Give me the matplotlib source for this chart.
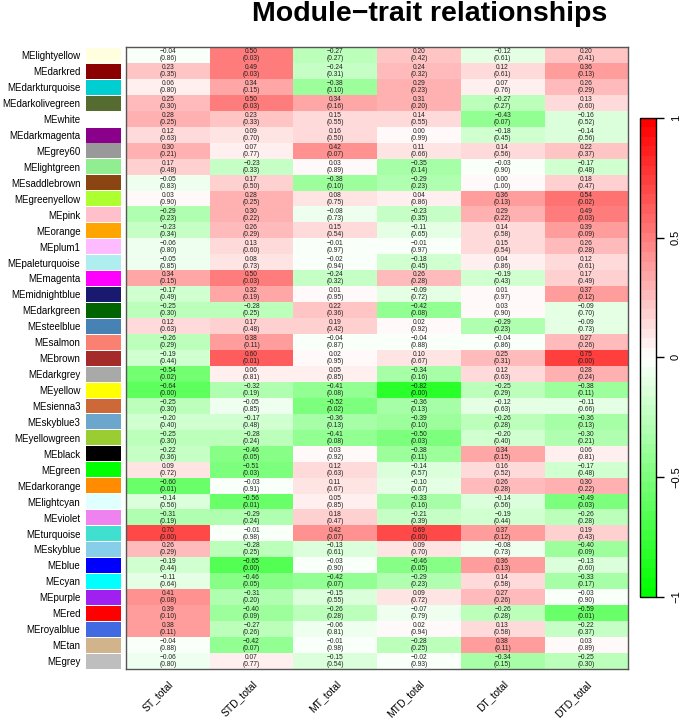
import matplotlib
matplotlib.use('Agg')
import matplotlib.pyplot as plt
import numpy as np
from matplotlib.colors import LinearSegmentedColormap

plt.rcParams['font.family'] = ['Liberation Sans', 'DejaVu Sans']

modules = ['MElightyellow', 'MEdarkred', 'MEdarkturquoise', 'MEdarkolivegreen', 'MEwhite',
           'MEdarkmagenta', 'MEgrey60', 'MElightgreen', 'MEsaddlebrown', 'MEgreenyellow',
           'MEpink', 'MEorange', 'MEplum1', 'MEpaleturquoise', 'MEmagenta',
           'MEmidnightblue', 'MEdarkgreen', 'MEsteelblue', 'MEsalmon', 'MEbrown',
           'MEdarkgrey', 'MEyellow', 'MEsienna3', 'MEskyblue3', 'MEyellowgreen',
           'MEblack', 'MEgreen', 'MEdarkorange', 'MElightcyan', 'MEviolet',
           'MEturquoise', 'MEskyblue', 'MEblue', 'MEcyan', 'MEpurple',
           'MEred', 'MEroyalblue', 'MEtan', 'MEgrey']
traits = ['ST_total', 'STD_total', 'MT_total', 'MTD_total', 'DT_total', 'DTD_total']

cor_ST = [-0.04, 0.23, 0.06, 0.25, 0.28, 0.12, 0.30, 0.17, -0.05, 0.03,
          -0.29, -0.23, -0.06, -0.05, 0.34, -0.17, -0.25, 0.12, -0.26, -0.19,
          -0.54, -0.64, -0.25, -0.20, -0.25, -0.22, 0.09, -0.60, -0.14, -0.31,
          0.70, 0.26, -0.19, -0.11, 0.41, 0.39, 0.38, -0.04, -0.06]
p_ST = [0.86, 0.35, 0.80, 0.30, 0.25, 0.63, 0.21, 0.48, 0.83, 0.90,
        0.23, 0.34, 0.80, 0.85, 0.15, 0.49, 0.30, 0.63, 0.29, 0.44,
        0.02, 0.00, 0.30, 0.40, 0.30, 0.36, 0.72, 0.01, 0.56, 0.19,
        0.00, 0.29, 0.44, 0.64, 0.08, 0.10, 0.11, 0.88, 0.80]

cor_STD = [0.50, 0.49, 0.34, 0.50, 0.23, 0.09, 0.07, -0.23, 0.17, 0.28,
           0.30, 0.26, 0.13, 0.08, 0.50, 0.32, -0.28, 0.17, 0.38, 0.60,
           0.06, -0.32, -0.05, -0.17, -0.28, -0.46, -0.51, -0.03, -0.56, -0.29,
           -0.01, -0.28, -0.65, -0.46, -0.31, -0.40, -0.27, -0.42, 0.07]
p_STD = [0.03, 0.03, 0.15, 0.03, 0.33, 0.70, 0.77, 0.33, 0.50, 0.25,
         0.22, 0.29, 0.60, 0.73, 0.03, 0.19, 0.25, 0.48, 0.11, 0.01,
         0.81, 0.19, 0.85, 0.48, 0.24, 0.05, 0.03, 0.91, 0.01, 0.24,
         0.98, 0.25, 0.00, 0.05, 0.20, 0.09, 0.26, 0.07, 0.77]

cor_MT = [-0.27, -0.24, -0.38, 0.34, 0.15, 0.16, 0.42, 0.03, -0.38, 0.08,
          -0.08, 0.15, -0.01, -0.02, -0.24, 0.01, 0.22, 0.19, -0.04, 0.02,
          0.05, -0.41, -0.52, -0.36, -0.41, 0.03, 0.12, 0.11, 0.05, 0.18,
          0.42, -0.13, -0.03, -0.42, -0.15, -0.26, -0.06, -0.01, -0.15]
p_MT = [0.27, 0.31, 0.10, 0.16, 0.55, 0.50, 0.07, 0.89, 0.10, 0.75,
        0.73, 0.54, 0.97, 0.94, 0.32, 0.95, 0.36, 0.42, 0.87, 0.95,
        0.85, 0.08, 0.02, 0.13, 0.08, 0.92, 0.63, 0.67, 0.85, 0.47,
        0.07, 0.61, 0.90, 0.07, 0.55, 0.28, 0.81, 0.98, 0.54]

cor_MTD = [0.20, 0.24, 0.29, 0.31, 0.14, 0.00, 0.11, -0.35, -0.29, 0.04,
           -0.23, -0.11, -0.01, -0.18, 0.26, -0.09, -0.42, 0.02, -0.04, 0.10,
           -0.34, -0.82, -0.36, -0.39, -0.50, -0.38, -0.14, -0.10, -0.33, -0.21,
           0.69, 0.09, -0.46, -0.29, 0.09, -0.07, 0.02, -0.28, -0.02]
p_MTD = [0.42, 0.32, 0.23, 0.20, 0.55, 0.99, 0.66, 0.14, 0.23, 0.86,
         0.35, 0.65, 0.97, 0.45, 0.28, 0.72, 0.08, 0.92, 0.88, 0.67,
         0.16, 0.00, 0.13, 0.10, 0.03, 0.11, 0.57, 0.67, 0.16, 0.39,
         0.00, 0.70, 0.05, 0.23, 0.72, 0.79, 0.94, 0.25, 0.93]

cor_DT = [-0.12, 0.12, 0.07, -0.27, -0.43, -0.18, 0.14, -0.03, 0.00, 0.36,
          0.29, 0.14, 0.15, 0.04, -0.19, 0.01, 0.03, -0.29, -0.04, 0.25,
          0.12, -0.25, -0.12, -0.26, -0.20, 0.34, 0.16, 0.26, -0.14, -0.19,
          0.37, -0.08, 0.36, 0.14, 0.27, -0.26, 0.13, 0.38, -0.34]
p_DT = [0.61, 0.61, 0.76, 0.27, 0.07, 0.45, 0.56, 0.90, 1.00, 0.13,
        0.22, 0.58, 0.54, 0.86, 0.43, 0.97, 0.90, 0.23, 0.86, 0.31,
        0.63, 0.29, 0.63, 0.28, 0.40, 0.15, 0.52, 0.28, 0.56, 0.44,
        0.12, 0.73, 0.13, 0.58, 0.26, 0.28, 0.58, 0.11, 0.15]

cor_DTD = [0.20, 0.36, 0.26, 0.13, -0.16, -0.14, 0.22, -0.17, 0.18, 0.54,
           0.49, 0.39, 0.26, 0.12, 0.17, 0.37, -0.09, -0.09, 0.27, 0.75,
           0.28, -0.38, -0.11, -0.36, -0.30, 0.06, -0.17, 0.30, -0.49, -0.26,
           0.19, -0.40, -0.13, -0.33, -0.03, -0.59, -0.22, 0.03, -0.25]
p_DTD = [0.41, 0.13, 0.29, 0.60, 0.52, 0.56, 0.37, 0.48, 0.47, 0.02,
         0.03, 0.09, 0.28, 0.61, 0.49, 0.12, 0.70, 0.73, 0.26, 0.00,
         0.24, 0.11, 0.66, 0.13, 0.21, 0.81, 0.48, 0.22, 0.03, 0.28,
         0.43, 0.09, 0.60, 0.17, 0.90, 0.01, 0.37, 0.89, 0.30]

# R colour names that matplotlib does not know
r_colors = {'lightyellow': '#FFFFE0', 'darkred': '#8B0000', 'darkturquoise': '#00CED1',
            'darkolivegreen': '#556B2F', 'white': '#FFFFFF', 'darkmagenta': '#8B008B',
            'grey60': '#999999', 'lightgreen': '#90EE90', 'saddlebrown': '#8B4513',
            'greenyellow': '#ADFF2F', 'pink': '#FFC0CB', 'orange': '#FFA500',
            'plum1': '#FFBBFF', 'paleturquoise': '#AFEEEE', 'magenta': '#FF00FF',
            'midnightblue': '#191970', 'darkgreen': '#006400', 'steelblue': '#4682B4',
            'salmon': '#FA8072', 'brown': '#A52A2A', 'darkgrey': '#A9A9A9',
            'yellow': '#FFFF00', 'sienna3': '#CD6839', 'skyblue3': '#6CA6CD',
            'yellowgreen': '#9ACD32', 'black': '#000000', 'green': '#00FF00',
            'darkorange': '#FF8C00', 'lightcyan': '#E0FFFF', 'violet': '#EE82EE',
            'turquoise': '#40E0D0', 'skyblue': '#87CEEB', 'blue': '#0000FF',
            'cyan': '#00FFFF', 'purple': '#A020F0', 'red': '#FF0000',
            'royalblue': '#4169E1', 'tan': '#D2B48C', 'grey': '#BEBEBE'}

cor = np.array([cor_ST, cor_STD, cor_MT, cor_MTD, cor_DT, cor_DTD]).T
pval = np.array([p_ST, p_STD, p_MT, p_MTD, p_DT, p_DTD]).T
nrow, ncol = cor.shape

cmap = LinearSegmentedColormap.from_list('gwr', ['#00FF00', '#FFFFFF', '#FF0000'], N=50)

fig = plt.figure(figsize=(6.85, 7.22), dpi=100)

ax = fig.add_axes([0.184, 0.0734, 0.733, 0.861])
im = ax.imshow(cor, cmap=cmap, vmin=-1, vmax=1, aspect='auto', interpolation='nearest')
for i in range(nrow):
    for j in range(ncol):
        s = '%.2f\n(%.2f)' % (cor[i, j], pval[i, j])
        ax.text(j, i, s.replace('-', '\u2212'), ha='center', va='center',
                fontsize=4.8, linespacing=1.0, color='#222222')
ax.set_yticks([])
ax.set_xticks(range(ncol))
ax.set_xticklabels(traits, rotation=45, ha='right', rotation_mode='anchor', fontsize=7.5)
ax.tick_params(axis='x', length=0, pad=7)
for sp in ax.spines.values():
    sp.set_color('#555555')
    sp.set_linewidth(1.0)

# module colour swatches
axc = fig.add_axes([0.1255, 0.0734, 0.051, 0.861])
for i, m in enumerate(modules):
    axc.barh(i, 1, height=0.94, color=r_colors[m[2:]], left=0)
axc.set_ylim(nrow - 0.5, -0.5)
axc.set_xlim(0, 1)
axc.set_yticks(range(nrow))
axc.set_yticklabels(modules, fontsize=7)
axc.tick_params(axis='y', length=0, pad=4)
axc.set_xticks([])
for sp in axc.spines.values():
    sp.set_visible(False)

# colour bar
cax = fig.add_axes([0.934, 0.173, 0.0234, 0.664])
cb = fig.colorbar(im, cax=cax, ticks=[-1, -0.5, 0, 0.5, 1])
cb.ax.set_yticklabels(['\u22121', '\u22120.5', '0', '0.5', '1'], rotation=90, va='center', fontsize=8)
cb.ax.tick_params(length=6, width=1, pad=5)
cb.outline.set_linewidth(1)

fig.text(0.627, 0.981, 'Module\u2212trait relationships', ha='center', va='center',
         fontsize=20.5, fontweight='bold')

fig.savefig('out.png', dpi=100)
